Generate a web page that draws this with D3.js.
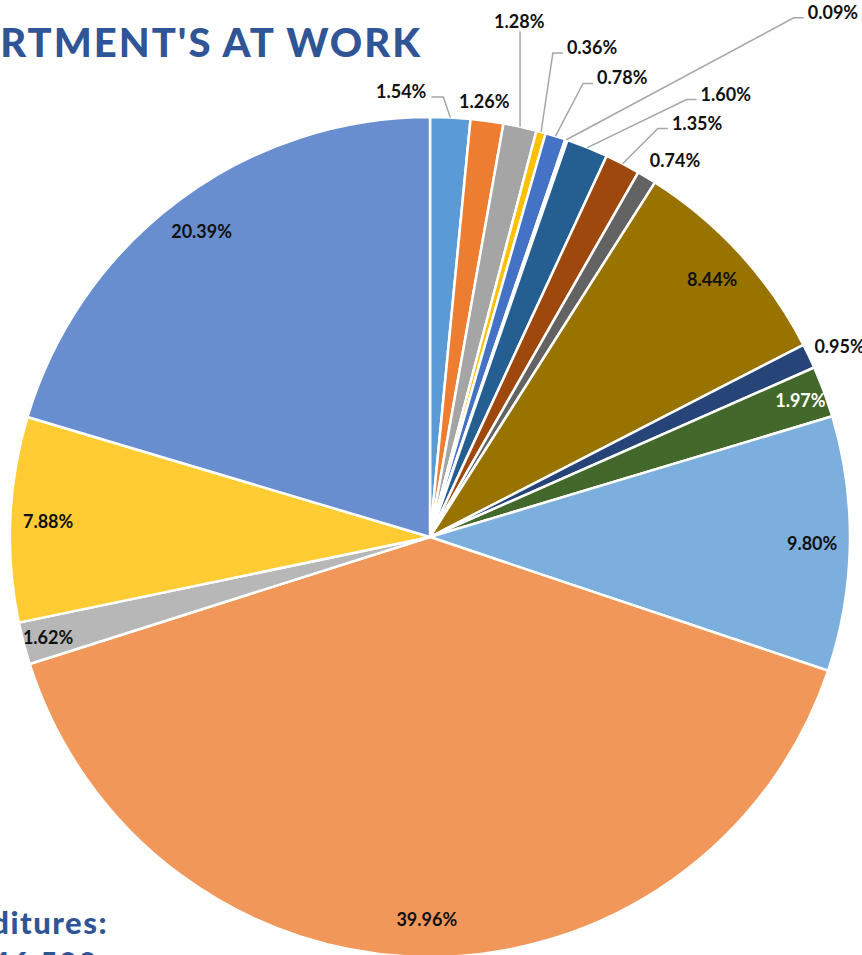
<!DOCTYPE html>
<html>
<head>
<meta charset="utf-8">
<script src="https://cdn.jsdelivr.net/npm/d3@7"></script>
<style>
  body { margin: 0; background: #fff; }
  svg { display: block; }
</style>
</head>
<body>
<div id="chart"></div>
<script>
// Slice values in clockwise order, starting at 12 o'clock
const labels = ["1.54%", "1.26%", "1.28%", "0.36%", "0.78%", "0.09%", "1.60%", "1.35%", "0.74%",
  "8.44%", "0.95%", "1.97%", "9.80%", "39.96%", "1.62%", "7.88%", "20.39%"];
const values = [1.54, 1.26, 1.28, 0.36, 0.78, 0.09, 1.60, 1.35, 0.74,
  8.44, 0.95, 1.97, 9.80, 39.96, 1.62, 7.88, 20.39];
const colors = ["#5B9BD5", "#ED7D31", "#A5A5A5", "#FFC000", "#4472C4", "#70AD47", "#255E91", "#9E480E", "#636363",
  "#997300", "#264478", "#43682B", "#7CAFDD", "#F1975A", "#B7B7B7", "#FFCD33", "#698ED0"];
// labels that sit outside the pie: [angle in degrees from 12 o'clock, distance / radius]
const outside = {
  "1.54%": [356.3, 1.064], "1.26%": [7.1, 1.045], "1.28%": [9.8, 1.248],
  "0.36%": [18.3, 1.229], "0.78%": [22.7, 1.186], "0.09%": [37.5, 1.576],
  "1.60%": [33.7, 1.269], "1.35%": [32.8, 1.174], "0.74%": [33.0, 1.071],
  "0.95%": [65.0, 1.076]
};

const width = 862, height = 955;
const cx = 430, cy = 537, radius = 420;

const svg = d3.select("#chart").append("svg")
  .attr("width", width).attr("height", height);

// title, cut off at the left edge like the reference
svg.append("text")
  .attr("x", 422).attr("y", 57)
  .attr("text-anchor", "end")
  .style("font-family", "Lato, sans-serif")
  .style("font-weight", "900")
  .style("font-size", "40px")
  .style("letter-spacing", "2px")
  .attr("fill", "#2F5597")
  .text("DEPARTMENT'S AT WORK");

svg.append("text")
  .attr("x", 108).attr("y", 934)
  .attr("text-anchor", "end")
  .style("font-family", "Lato, sans-serif")
  .style("font-weight", "900")
  .style("font-size", "31px")
  .style("letter-spacing", "1.5px")
  .attr("fill", "#2F5597")
  .text("Expenditures:");
svg.append("text")
  .attr("x", 98).attr("y", 974)
  .attr("text-anchor", "end")
  .style("font-family", "Lato, sans-serif")
  .style("font-weight", "900")
  .style("font-size", "31px")
  .style("letter-spacing", "1.5px")
  .attr("fill", "#2F5597")
  .text("$146,500");

const pie = d3.pie().sort(null).value((d) => d)(values);
const arc = d3.arc().innerRadius(0).outerRadius(radius);

const g = svg.append("g").attr("transform", `translate(${cx},${cy})`);

g.selectAll("path")
  .data(pie)
  .enter()
  .append("path")
  .attr("d", arc)
  .attr("fill", (d, i) => colors[i])
  .attr("stroke", "#fff")
  .attr("stroke-width", 2.5)
  .attr("stroke-linejoin", "round");

const polar = (angle, r) => [r * Math.sin(angle), -r * Math.cos(angle)];
const leaders = g.append("g");

pie.forEach((d, i) => {
  const mid = (d.startAngle + d.endAngle) / 2;
  const spot = outside[labels[i]];
  let x, y;
  if (spot) {
    [x, y] = polar(spot[0] * Math.PI / 180, spot[1] * radius);
  } else {
    const k = values[i] >= 5 ? 0.91 : 0.94;
    [x, y] = polar(mid, k * radius);
  }
  const t = g.append("text")
    .attr("x", x).attr("y", y)
    .attr("text-anchor", "middle")
    .attr("dominant-baseline", "central")
    .style("font-family", "Lato, sans-serif")
    .style("font-weight", "700")
    .style("font-size", "18px")
    .attr("fill", labels[i] === "1.97%" ? "#fff" : "#111")
    .text(labels[i]);

  if (!spot) return;
  // leader line from the slice edge to the label, when the label stands apart
  const hw = t.node().getComputedTextLength() / 2;
  const [ex, ey] = polar(mid, radius);
  const left = x - hw, right = x + hw, top = y - 7, bottom = y + 7;
  const dx = Math.max(left - ex, 0, ex - right);
  const dy = Math.max(top - ey, 0, ey - bottom);
  if (Math.hypot(dx, dy) < 18) return;
  let pts;
  if (ex > right) pts = [[right + 5, y + 6], [right + 17, y + 6], [ex, ey]];
  else if (ex < left) pts = [[left - 4, y + 6], [left - 14, y + 6], [ex, ey]];
  else pts = [[ex, bottom + 4], [ex, ey]];
  leaders.append("path")
    .attr("d", d3.line()(pts))
    .attr("fill", "none")
    .attr("stroke", "#A6A6A6")
    .attr("stroke-width", 1.5);
});
</script>
</body>
</html>
